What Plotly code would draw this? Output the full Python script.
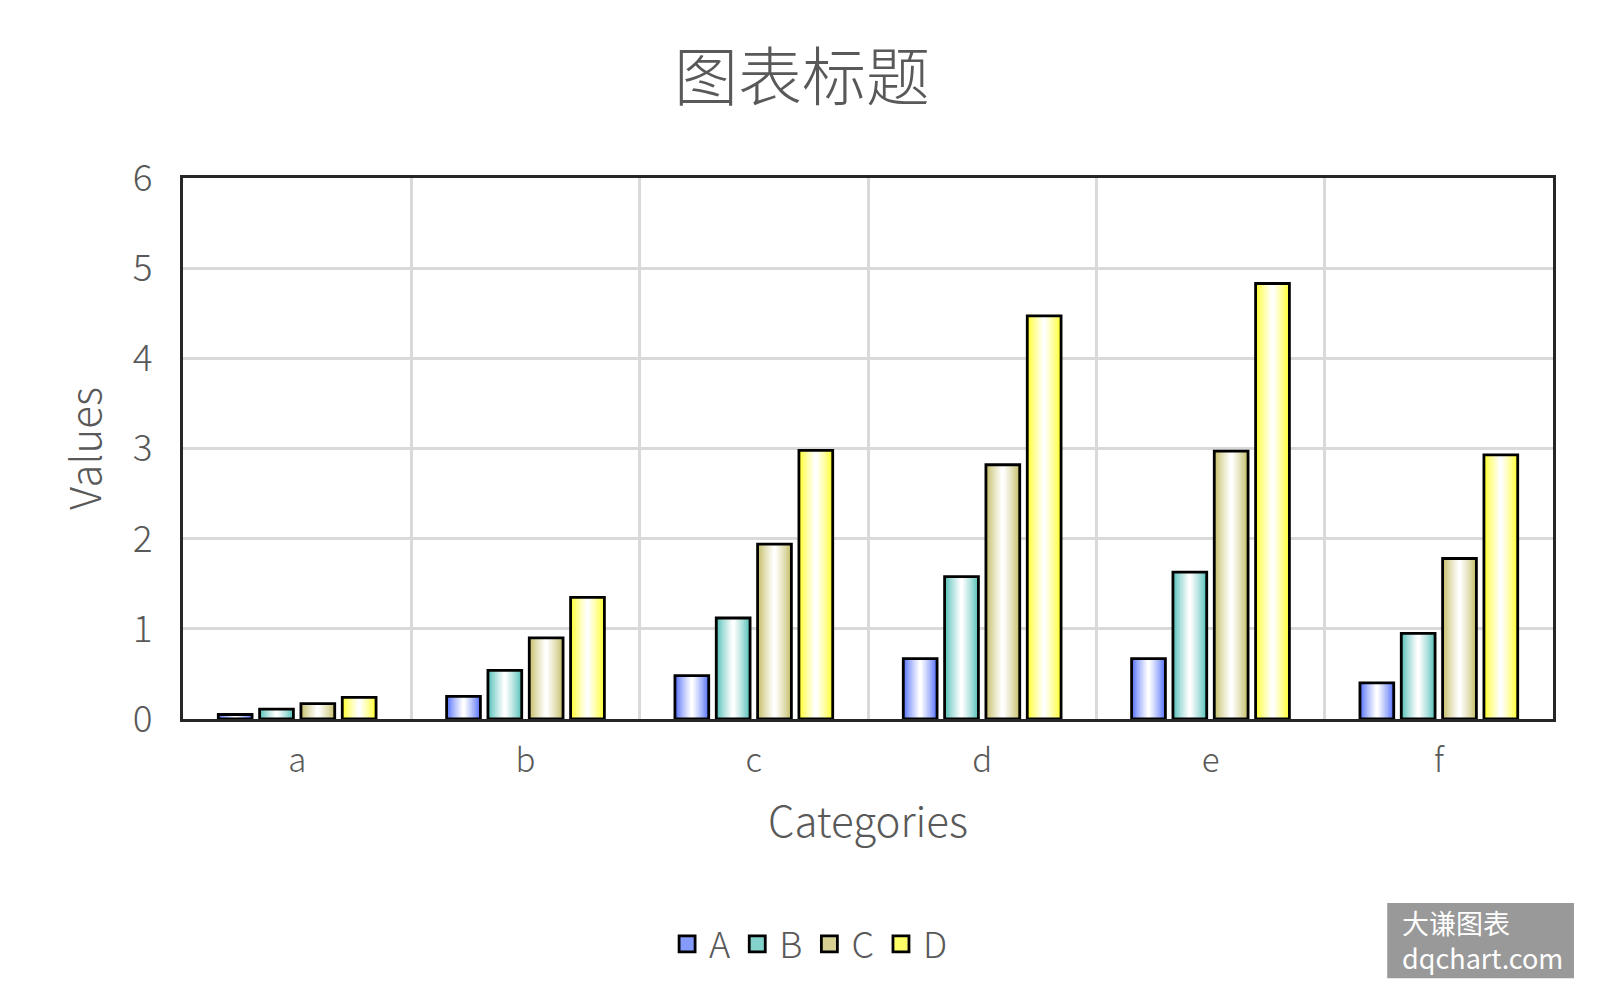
import plotly.graph_objects as go

categories = ["a", "b", "c", "d", "e", "f"]
series_names = ["A", "B", "C", "D"]
values_A = [0.05, 0.25, 0.48, 0.67, 0.67, 0.40]
values_B = [0.11, 0.54, 1.12, 1.58, 1.63, 0.95]
values_C = [0.17, 0.90, 1.94, 2.82, 2.97, 1.78]
values_D = [0.24, 1.35, 2.98, 4.47, 4.83, 2.93]
y_ticks = [0, 1, 2, 3, 4, 5, 6]

series_values = [values_A, values_B, values_C, values_D]
edge_colors = [(80, 110, 250), (80, 190, 182), (196, 188, 100), (255, 255, 40)]

FONT = "Noto Sans CJK SC, Noto Sans, sans-serif"
GRAY = "#595959"

slot = 0.181
bar_w = 0.148
N_LAYERS = 12


def mix(c, t):
    r, g, b = (int(round(ch + (255 - ch) * t)) for ch in c)
    return f"rgb({r},{g},{b})"


fig = go.Figure()
for i, (name, vals, col) in enumerate(zip(series_names, series_values, edge_colors)):
    center = (i - 1.5) * slot
    for k in range(N_LAYERS):
        frac = 1 - k / N_LAYERS
        w = bar_w * frac
        t = (k / (N_LAYERS - 1)) ** 0.8
        fig.add_trace(go.Bar(
            x=categories, y=vals, name=name,
            width=w, offset=center - w / 2,
            marker=dict(color=mix(col, t), line=dict(width=0)),
            showlegend=False, legendgroup=name, hoverinfo="skip",
        ))
    fig.add_trace(go.Bar(
        x=categories, y=vals, name=name,
        width=bar_w, offset=center - bar_w / 2,
        marker=dict(color="rgba(0,0,0,0)", line=dict(color="black", width=2.8)),
        showlegend=False, legendgroup=name,
    ))
    # legend entry
    fig.add_trace(go.Scatter(
        x=[None], y=[None], name=name, mode="markers", legendgroup=name,
        marker=dict(symbol="square", size=16, color=mix(col, 0.3),
                    line=dict(color="black", width=2.8)),
        showlegend=True,
    ))

fig.update_layout(
    barmode="overlay",
    width=1588, height=992,
    paper_bgcolor="white", plot_bgcolor="white",
    margin=dict(l=175, r=43, t=170, b=281),
    font=dict(family=FONT, color=GRAY, weight=300),
    title=dict(text="图表标题", x=0.5, xanchor="center", y=0.930, yanchor="middle",
               font=dict(size=64, color=GRAY, family=FONT, weight=300)),
    xaxis=dict(
        type="category", tickson="boundaries", showgrid=True,
        gridcolor="#d9d9d9", gridwidth=2.5,
        showline=True, linecolor="#262626", linewidth=3, mirror=True,
        ticks="", tickfont=dict(size=33, color=GRAY, weight=300), ticklabelstandoff=10,
        title=dict(text="Categories", font=dict(size=42, color=GRAY, weight=300), standoff=28),
        range=[-0.5, 5.5],
    ),
    yaxis=dict(
        range=[0, 6], tickvals=y_ticks, showgrid=True,
        gridcolor="#d9d9d9", gridwidth=2.5,
        showline=True, linecolor="#262626", linewidth=3, mirror=True,
        ticks="", tickfont=dict(size=37, color=GRAY, weight=300), ticklabelstandoff=20,
        title=dict(text="Values", font=dict(size=42, color=GRAY, weight=300), standoff=19),
        zeroline=False,
    ),
    legend=dict(orientation="h", x=0.457, xanchor="center", y=-0.416, yanchor="middle",
                font=dict(size=36, color=GRAY, weight=300), itemwidth=34,
                tracegroupgap=0, itemsizing="trace"),
    shapes=[dict(
        type="rect", xref="paper", yref="paper", x0=0.879, x1=1.0153, y0=-0.479, y1=-0.340,
        fillcolor="#999999", line=dict(width=0), layer="above",
    )],
    annotations=[dict(
        text="大谦图表<br>dqchart.com", xref="paper", yref="paper",
        x=0.8885, y=-0.409, xanchor="left", yanchor="middle", showarrow=False,
        align="left",
        font=dict(size=27, color="white", family=FONT, weight=400),
    )],
)

fig.write_html("out.html")
